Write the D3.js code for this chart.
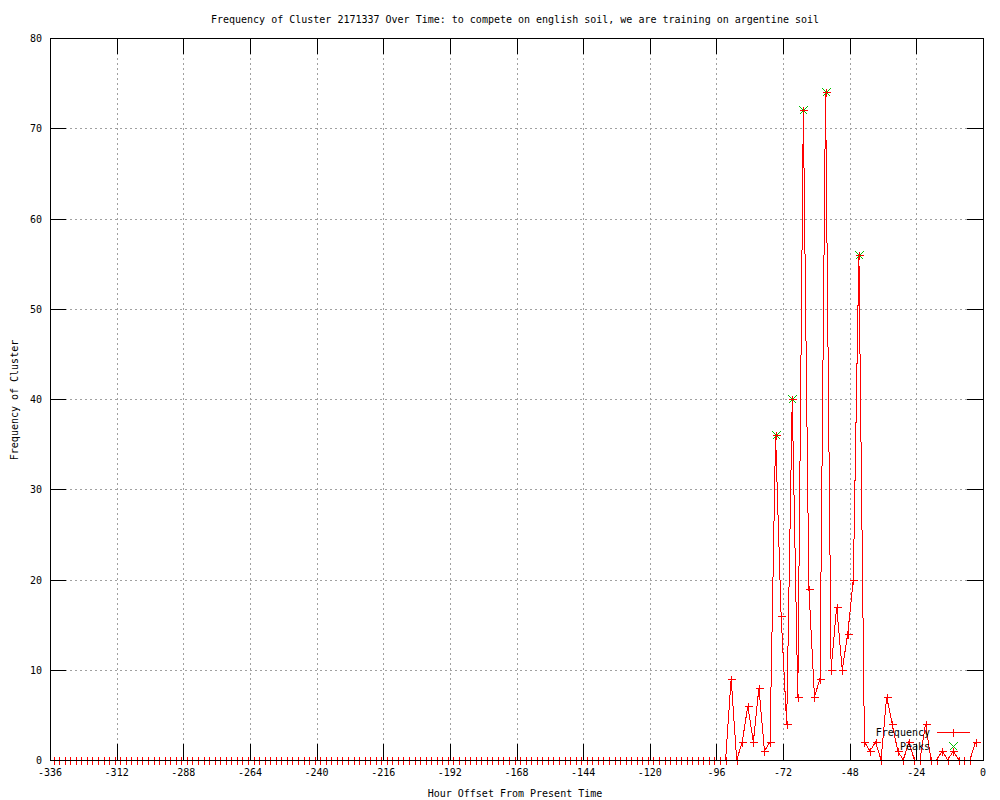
<!DOCTYPE html>
<html>
<head>
<meta charset="utf-8">
<script src="https://cdn.jsdelivr.net/npm/d3@7"></script>
<style>
body { margin: 0; background: #fff; }
svg text { font-family: "DejaVu Sans Mono", monospace; font-size: 10px; fill: #000; }
</style>
</head>
<body>
<svg id="app" width="1000" height="800"></svg>
<script>
const title = 'Frequency of Cluster 2171337 Over Time: to compete on english soil, we are training on argentine soil'
const xLabel = 'Hour Offset From Present Time'
const yLabel = 'Frequency of Cluster'

const xTicks = [-336, -312, -288, -264, -240, -216, -192, -168, -144, -120, -96, -72, -48, -24, 0]
const yTicks = [0, 10, 20, 30, 40, 50, 60, 70, 80]

// 2-hour bins, the last one ends at -2.7h
const lastHour = -2.7
const stepHours = 2
const freq = [
  0,0,0,0,0,0,0,0,0,0,0,0,0,0,0,0,0,0,0,0,
  0,0,0,0,0,0,0,0,0,0,0,0,0,0,0,0,0,0,0,0,
  0,0,0,0,0,0,0,0,0,0,0,0,0,0,0,0,0,0,0,0,
  0,0,0,0,0,0,0,0,0,0,0,0,0,0,0,0,0,0,0,0,
  0,0,0,0,0,0,0,0,0,0,0,0,0,0,0,0,0,0,0,0,
  0,0,0,0,0,0,0,0,0,0,0,0,0,0,0,0,0,0,0,0,
  0,0,
  9,0,2,6,2,8,1,2,36,16,4,40,7,72,19,7,9,74,10,17,
  10,14,20,56,2,1,2,0,7,4,1,0,2,0,0,4,0,0,1,0,
  1,0,0,0,2
]

const peakHours = [-74.7, -68.7, -64.7, -56.7, -44.7]
const peakValues = [36, 40, 72, 74, 56]

const red = '#ff0000'
const green = '#00c000'
const gridColor = '#a0a0a0'

const pLeft = 50, pRight = 983, pTop = 38, pBottom = 760
const tickLen = 16

let svg = d3.select('#app')

let x = d3.scaleLinear().domain([-336, 0]).range([pLeft, pRight])
let y = d3.scaleLinear().domain([0, 80]).range([pBottom, pTop])
const px = v => Math.round(v) + 0.5

let points = freq.map((v, i) => ({
  h: lastHour - stepHours * (freq.length - 1 - i),
  v
}))
let peaks = peakHours.map((h, i) => ({h, v: peakValues[i]}))

// grid
let gridG = svg.append('g')
  .attr('stroke', gridColor)
  .attr('stroke-dasharray', '2,3')
  .attr('shape-rendering', 'crispEdges')

gridG.selectAll('line.gx')
  .data(xTicks.slice(1, -1))
  .enter()
  .append('line')
  .attr('class', 'gx')
  .attr('x1', d => px(x(d)))
  .attr('x2', d => px(x(d)))
  .attr('y1', pTop)
  .attr('y2', pBottom)

gridG.selectAll('line.gy')
  .data(yTicks.slice(1, -1))
  .enter()
  .append('line')
  .attr('class', 'gy')
  .attr('x1', pLeft)
  .attr('x2', pRight)
  .attr('y1', d => px(y(d)))
  .attr('y2', d => px(y(d)))

// data line + markers
let plotG = svg.append('g')

let line = d3.line().x(d => x(d.h)).y(d => y(d.v))

plotG.append('path')
  .datum(points)
  .attr('d', line)
  .attr('fill', 'none')
  .attr('stroke', red)
  .attr('stroke-width', 1)
  .attr('shape-rendering', 'crispEdges')

const plus = (cx, cy, s) => `M${cx - s},${cy}H${cx + s}M${cx},${cy - s}V${cy + s}`
const cross = (cx, cy, s) => `M${cx - s},${cy - s}L${cx + s},${cy + s}M${cx - s},${cy + s}L${cx + s},${cy - s}`

plotG.selectAll('path.pt')
  .data(points)
  .enter()
  .append('path')
  .attr('class', 'pt')
  .attr('d', d => plus(px(x(d.h)), px(y(d.v)), 4))
  .attr('stroke', red)
  .attr('shape-rendering', 'crispEdges')

plotG.selectAll('path.pk')
  .data(peaks)
  .enter()
  .append('path')
  .attr('class', 'pk')
  .attr('d', d => cross(px(x(d.h)), px(y(d.v)), 4))
  .attr('stroke', green)
  .attr('shape-rendering', 'crispEdges')

plotG.selectAll('path.pk2')
  .data(peaks)
  .enter()
  .append('path')
  .attr('class', 'pk2')
  .attr('d', d => plus(px(x(d.h)), px(y(d.v)), 4))
  .attr('stroke', red)
  .attr('shape-rendering', 'crispEdges')

// border and ticks (front)
let axisG = svg.append('g')
  .attr('stroke', '#000')
  .attr('shape-rendering', 'crispEdges')

axisG.append('rect')
  .attr('x', px(pLeft))
  .attr('y', px(pTop))
  .attr('width', Math.round(pRight) - Math.round(pLeft))
  .attr('height', Math.round(pBottom) - Math.round(pTop))
  .attr('fill', 'none')

xTicks.forEach(t => {
  const xx = px(x(t))
  axisG.append('line').attr('x1', xx).attr('x2', xx).attr('y1', pBottom).attr('y2', pBottom - tickLen)
  axisG.append('line').attr('x1', xx).attr('x2', xx).attr('y1', pTop).attr('y2', pTop + tickLen)
})
yTicks.forEach(t => {
  const yy = px(y(t))
  axisG.append('line').attr('x1', pLeft).attr('x2', pLeft + tickLen).attr('y1', yy).attr('y2', yy)
  axisG.append('line').attr('x1', pRight).attr('x2', pRight - tickLen).attr('y1', yy).attr('y2', yy)
})

// tick labels
svg.append('g').selectAll('text')
  .data(xTicks)
  .enter()
  .append('text')
  .attr('x', d => x(d))
  .attr('y', 776)
  .attr('text-anchor', 'middle')
  .text(d => d)

svg.append('g').selectAll('text')
  .data(yTicks)
  .enter()
  .append('text')
  .attr('x', 42)
  .attr('y', d => y(d) + 4)
  .attr('text-anchor', 'end')
  .text(d => d)

// titles
svg.append('text')
  .attr('x', 515)
  .attr('y', 23)
  .attr('text-anchor', 'middle')
  .text(title)

svg.append('text')
  .attr('x', 515)
  .attr('y', 797)
  .attr('text-anchor', 'middle')
  .text(xLabel)

svg.append('text')
  .attr('transform', 'translate(18,400) rotate(-90)')
  .attr('text-anchor', 'middle')
  .text(yLabel)

// legend
let legG = svg.append('g')
legG.append('text').attr('x', 930).attr('y', 736).attr('text-anchor', 'end').text('Frequency')
legG.append('text').attr('x', 930).attr('y', 750).attr('text-anchor', 'end').text('Peaks')
legG.append('line')
  .attr('x1', 937).attr('x2', 970).attr('y1', 732.5).attr('y2', 732.5)
  .attr('stroke', red).attr('shape-rendering', 'crispEdges')
legG.append('path').attr('d', plus(953.5, 732.5, 4)).attr('stroke', red).attr('shape-rendering', 'crispEdges')
legG.append('path').attr('d', cross(953.5, 746.5, 4)).attr('stroke', green).attr('shape-rendering', 'crispEdges')
</script>
</body>
</html>
